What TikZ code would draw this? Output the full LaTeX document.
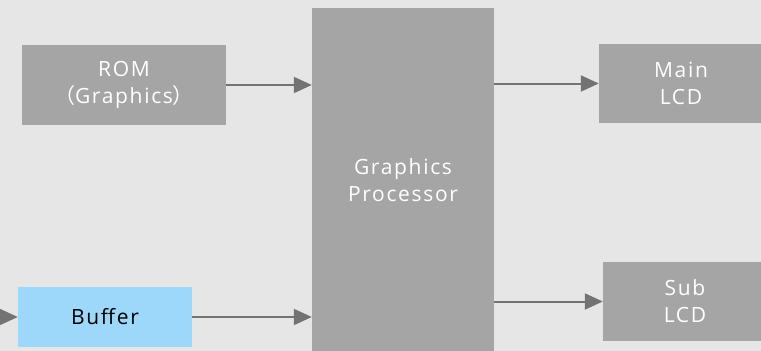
\documentclass[tikz,border=0pt]{standalone}
\usepackage{fontspec}
\setmainfont{Open Sans}[LetterSpace=8]
\newfontfamily\cjkfont{Noto Sans CJK SC}
\usetikzlibrary{arrows.meta}
\definecolor{bgback}{HTML}{E6E6E6}
\definecolor{boxgray}{HTML}{A5A5A5}
\definecolor{arrowgray}{HTML}{737373}
\definecolor{bufblue}{HTML}{9DD7F9}
\def\fwparen#1{{\cjkfont（}#1{\cjkfont）}}

\begin{document}
\begin{tikzpicture}[x=1pt, y=-1pt,
		block/.style={fill=boxgray, text=white, inner sep=0pt, align=center,
			font=\fontsize{21}{27}\selectfont},
		flow/.style={draw=arrowgray, line width=2pt, -{Triangle[length=18pt,width=16pt]}}]
		%%%%% START %%%%%
		
		\fill[bgback] (0, 0) rectangle (761, 351);
		\useasboundingbox (0, 0) rectangle (761, 351);
		
		\node[block, minimum width=204, minimum height=80] (rom) at (124, 85) {ROM\\\fwparen{Graphics}};
		\node[block, minimum width=182, minimum height=344] (gp) at (403, 180) {Graphics\\Processor};
		
		\node[block, minimum width=164, minimum height=79] (mainlcd) at (681, 83.5) {Main\\LCD};
		\node[block, minimum width=164, minimum height=79] (sublcd) at (685, 301.5) {Sub\\LCD};
		
		\node[block, fill=bufblue, text=black, minimum width=174, minimum height=60] (buffer) at (105, 317) {Buffer};
		\coordinate (bufin) at (-20, 317);
		
		\draw[flow] (rom.east) -- (rom.east -| gp.west);
		\draw[flow] (buffer.east) -- (buffer.east -| gp.west);
		\draw[flow] (bufin) -- (buffer.west);
		
		\draw[flow] (gp.east |- mainlcd.west) -- (mainlcd.west);
		\draw[flow] (gp.east |- sublcd.west) -- (sublcd.west);
		
		%%%%% END %%%%%
	\end{tikzpicture}
\end{document}
